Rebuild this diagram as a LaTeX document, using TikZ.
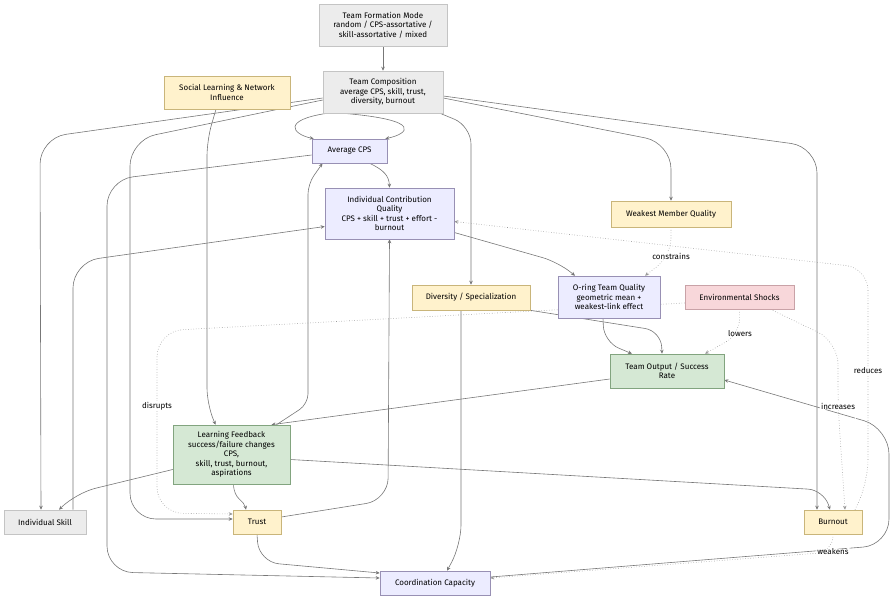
\documentclass[tikz,border=0pt]{standalone}
\usepackage{fontspec}
\setmainfont{Fira Sans}
\usetikzlibrary{arrows.meta, backgrounds}
\definecolor{grayfill}{HTML}{ECECEC}
\definecolor{grayline}{HTML}{C4C4C4}
\definecolor{yelfill}{HTML}{FFF2CC}
\definecolor{yelline}{HTML}{C9B57A}
\definecolor{lavfill}{HTML}{ECECFF}
\definecolor{lavline}{HTML}{9890B4}
\definecolor{grnfill}{HTML}{D5E8D4}
\definecolor{grnline}{HTML}{82A47F}
\definecolor{pinkfill}{HTML}{F8D7DA}
\definecolor{pinkline}{HTML}{C9A2A7}
\definecolor{edgecol}{HTML}{777777}
\definecolor{dotcol}{HTML}{9A9A9A}
\tikzstyle{box} = [rectangle,draw,align=center,inner sep=2pt,line width=0.6pt,font=\fontsize{8}{9.4}\selectfont]
\tikzstyle{graynode} = [box,fill=grayfill,draw=grayline]
\tikzstyle{yelnode} = [box,fill=yelfill,draw=yelline]
\tikzstyle{lavnode} = [box,fill=lavfill,draw=lavline]
\tikzstyle{grnnode} = [box,fill=grnfill,draw=grnline]
\tikzstyle{pinknode} = [box,fill=pinkfill,draw=pinkline]
\tikzstyle{arr} = [-{Stealth[length=4pt,width=3.6pt]},draw=edgecol,line width=0.6pt,rounded corners=12pt]
\tikzstyle{dotarr} = [arr,draw=dotcol,dotted]
\tikzstyle{lbl} = [fill=white,inner sep=1pt,font=\fontsize{8}{9.4}\selectfont]

\begin{document}
\begin{tikzpicture}[x=1pt,y=-1pt]
	\useasboundingbox (0,0) rectangle (894,600);
	% boxes
	\node [graynode,minimum width=128,minimum height=42](mode) at (383,25) {Team Formation Mode\\random / CPS-assortative /\\skill-assortative / mixed};
	\node [graynode,minimum width=120,minimum height=42](comp) at (383,92) {Team Composition\\average CPS, skill, trust,\\diversity, burnout};
	\node [yelnode,minimum width=126,minimum height=33](social) at (227,92.5) {Social Learning \& Network\\Influence};
	\node [lavnode,minimum width=75,minimum height=24](avgcps) at (349.5,151) {Average CPS};
	\node [lavnode,minimum width=129,minimum height=51](contrib) at (389.5,213.5) {Individual Contribution\\Quality\\CPS + skill + trust + effort -\\burnout};
	\node [yelnode,minimum width=120,minimum height=26](weakest) at (671,214) {Weakest Member Quality};
	\node [lavnode,minimum width=102,minimum height=42](oring) at (609,297) {O-ring Team Quality\\geometric mean +\\weakest-link effect};
	\node [yelnode,minimum width=118,minimum height=25](diversity) at (471,297.5) {Diversity / Specialization};
	\node [pinknode,minimum width=109,minimum height=24](shocks) at (739.5,297) {Environmental Shocks};
	\node [grnnode,minimum width=114,minimum height=34](output) at (667,371) {Team Output / Success\\Rate};
	\node [grnnode,minimum width=117,minimum height=59](learn) at (231.5,454.5) {Learning Feedback\\success/failure changes\\CPS,\\skill, trust, burnout,\\aspirations};
	\node [graynode,minimum width=82,minimum height=24](skill) at (45,522) {Individual Skill};
	\node [yelnode,minimum width=48,minimum height=24](trust) at (257,522) {Trust};
	\node [yelnode,minimum width=58,minimum height=24](burnout) at (833,522) {Burnout};
	\node [lavnode,minimum width=110,minimum height=24](coord) at (435,583) {Coordination Capacity};

	\begin{pgfonlayer}{background}
	% solid links
	\draw[arr](mode)--(comp);
	\draw[arr]([shift={(-56,0)}]comp.south) .. controls (282,120) and (292,134) .. ([shift={(2,0)}]avgcps.north west);
	\draw[arr]([shift={(-40,0)}]comp.south) .. controls (425,120) and (408,134) .. ([shift={(-2,0)}]avgcps.north east);
	\draw[arr,rounded corners=26pt]([shift={(0,6)}]comp.west)--(40,138)--([shift={(-4,0)}]skill.north);
	\draw[arr,rounded corners=26pt]([shift={(0,8)}]comp.west)--(130,140)--(130,519)--([shift={(0,-3)}]trust.west);
	\draw[arr,rounded corners=26pt]([shift={(0,6)}]comp.east)--(671,143)--(weakest.north);
	\draw[arr,rounded corners=26pt]([shift={(0,4)}]comp.east)--(817,147)--([shift={(-16,0)}]burnout.north);
	\draw[arr,rounded corners=18pt]([shift={(57,0)}]comp.south)--(471,126)--(diversity.north);
	\draw[arr]([shift={(20,0)}]avgcps.south) .. controls (384,170) and (389,176) .. (contrib.north);
	\draw[arr,rounded corners=26pt]([shift={(0,4)}]avgcps.west)--(107,180)--(107,572)--([shift={(0,-5)}]coord.west);
	\draw[arr,rounded corners=26pt]([shift={(28,0)}]skill.north)--(73,262)--([shift={(0,13)}]contrib.west);
	\draw[arr,rounded corners=22pt]([shift={(0,-5)}]trust.east)--(388,500)--(contrib.south);
	\draw[arr,rounded corners=20pt](trust.south)--(259,562)--([shift={(0,-10)}]coord.west);
	\draw[arr,rounded corners=10pt]([shift={(45,0)}]learn.north)--(308,404)--(308,184)--([shift={(-27,0)}]avgcps.south);
	\draw[arr]([shift={(0,8)}]output.west)--([shift={(40,0)}]learn.north);
	\draw[arr,rounded corners=16pt]([shift={(-11,0)}]social.south)--(207,140)--(207,404)--([shift={(-16,0)}]learn.north);
	\draw[arr]([shift={(2,0)}]learn.south) .. controls (234,500) and (244,500) .. ([shift={(-11,0)}]trust.north);
	\draw[arr,rounded corners=20pt]([shift={(0,15)}]learn.west)--(76,493)--([shift={(14,0)}]skill.north);
	\draw[arr,rounded corners=16pt]([shift={(0,5)}]learn.east)--(824,490)--([shift={(-3,0)}]burnout.north);
	\draw[arr,rounded corners=16pt]([shift={(0,19)}]contrib.east)--(558,262)--([shift={(-34,0)}]oring.north);
	\draw[arr,rounded corners=16pt]([shift={(-6,0)}]oring.south)--(604,342)--([shift={(-35,0)}]output.north);
	\draw[arr,rounded corners=16pt](diversity.south east)--(661,331)--([shift={(-5,0)}]output.north);
	\draw[arr,rounded corners=20pt]([shift={(-10,0)}]diversity.south)--(461,545)--([shift={(12,0)}]coord.north);
	\draw[arr,rounded corners=26pt]([shift={(0,-6)}]coord.east)--(889,545)--(889,428)--([shift={(0,9)}]output.east);
	% dotted links
	\draw[dotarr,rounded corners=18pt](weakest.south)--(671,256)node[lbl]{constrains}--([shift={(36,0)}]oring.north);
	\draw[dotarr,rounded corners=16pt](shocks.south)--(740,334)node[lbl]{lowers}--([shift={(38,0)}]output.north);
	\draw[dotarr,rounded corners=26pt]([shift={(0,6)}]shocks.west)--(157,331)--(157,406)node[lbl]{disrupts}--(157,513)--([shift={(0,-8)}]trust.west);
	\draw[dotarr,rounded corners=22pt]([shift={(31,0)}]shocks.south)--(838,342)--(838,406)node[lbl]{increases}--([shift={(12,0)}]burnout.north);
	\draw[dotarr,rounded corners=22pt]([shift={(22,0)}]burnout.north)--(868,482)--(868,371)node[lbl]{reduces}--(868,268)--([shift={(0,8)}]contrib.east);
	\draw[dotarr,rounded corners=16pt](burnout.south)--(833,552)node[lbl]{weakens}--([shift={(0,-5)}]coord.east);
	\end{pgfonlayer}
\end{tikzpicture}
\end{document}
